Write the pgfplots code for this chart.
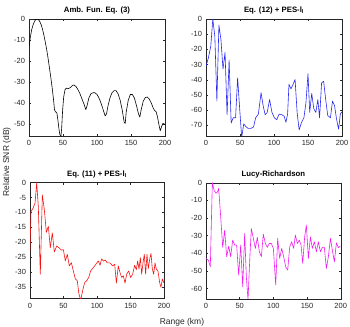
\documentclass[border=0pt]{standalone}
\usepackage{pgfplots}
\pgfplotsset{compat=1.18}
\usepackage{fontspec}
\setmainfont{Liberation Sans}

\definecolor{axgray}{RGB}{38,38,38}
\definecolor{lineblue}{RGB}{40,40,240}
\definecolor{linered}{RGB}{245,20,20}
\definecolor{linemag}{RGB}{240,30,240}

\pgfplotsset{
  every axis title/.style={at={(0.5,1)}, anchor=south, yshift=1.5bp,
    font=\bfseries\fontsize{7.8}{9}\selectfont, text=black},
  snrpanel/.style={
    scale only axis,
    width=136bp, height=117bp,
    anchor=south west,
    xmin=0, xmax=200,
    xtick={0,50,...,200},
    tick align=inside,
    major tick length=2.2bp,
    axis line style={axgray, line width=0.4bp},
    every tick/.style={axgray, line width=0.4bp},
    tick label style={font=\fontsize{7.5}{8}\selectfont, text=axgray},
    /pgf/number format/assume math mode=true,
    xticklabel style={yshift=-1bp},
    yticklabel style={xshift=-0.5bp},
    every axis plot/.append style={line width=0.6bp, line join=round},
  }
}

\begin{document}
\begin{tikzpicture}
\useasboundingbox (0bp,0bp) rectangle (350bp,327bp);

% ---- Ambiguity function
\begin{axis}[snrpanel, at={(29bp,191bp)},
  ymin=-55.5, ymax=0, ytick={-50,-40,...,0},
  title={Amb. Fun. Eq. (3)}]
\addplot[black] coordinates {
(0,-13) (2,-8.5) (4,-5) (6,-2.8) (8,-1.2) (10,-0.2) (12,0) (14,-0.3)
(16,-1.3) (18,-2.8) (20,-5) (22,-7.8) (24,-11) (26,-14.5) (28,-18.5)
(30,-23) (32,-27.5) (34,-32.5) (36,-38) (37.5,-43) (39,-44) (41,-44.5)
(42.5,-48) (44,-52) (45.5,-55) (47,-55.5) (48,-52) (49.5,-43) (51,-37)
(53,-33.5) (55,-32.8) (58,-33) (61,-32.5) (64,-31.5) (66,-31.3) (69,-32)
(72,-33.5) (75,-35.5) (78,-38) (81,-40.5) (83.5,-43) (85.5,-41) (88,-37.5)
(91,-35.5) (94,-35) (97,-35) (100,-35.8) (103,-37.5) (106,-40) (109,-43)
(112,-46) (114,-45) (116,-41.5) (119,-37.5) (122,-35) (125,-34) (128,-34)
(131,-35.5) (134,-38.5) (137,-43) (140,-49) (141.5,-49.5) (143,-44)
(146,-38.5) (149,-35.8) (152,-35.8) (155,-37.5) (158,-41) (161,-45)
(163,-46.5) (165,-43) (168,-39) (171,-37.3) (174,-37) (177,-38) (180,-40)
(183,-42.5) (185,-43.5) (187,-44) (189,-46.5) (191,-50) (193,-53)
(195,-51) (197,-49.5) (200,-50)
};
\end{axis}

% ---- Eq. (12) + PES
\begin{axis}[snrpanel, at={(206bp,191bp)},
  ymin=-77, ymax=0, ytick={-70,-60,...,0},
  title={Eq. (12) + PES-l\textsubscript{l}}]
\addplot[lineblue] coordinates {
(0,-31) (3.5,-25.6) (7,-18) (10,0) (13,-11.5) (16,-54) (19,-4) (22,-13.7)
(25,-33) (28,-22) (31,-63) (34,-27) (37,-68.5) (40,-65) (43.5,-65)
(46.5,-38.7) (49.5,-59) (52.5,-78) (55.5,-69) (59,-71) (62,-72) (66,-72)
(70,-71) (73,-65) (77,-62.6) (81,-48.5) (84,-57) (87,-63) (90,-61.5)
(93.5,-53) (97,-61.5) (100.5,-65) (104,-66.3) (107.5,-62.6) (111.5,-63)
(115,-64) (117.5,-68) (120,-62.6) (122,-43) (125,-46) (128,-43)
(131,-39.8) (134,-61.5) (137,-73) (140.5,-68) (144,-65) (147,-55)
(150,-36) (152.5,-61.5) (155.5,-49) (158.5,-59) (161.5,-61.5) (164.5,-53)
(167,-65) (170,-42) (173,-41) (176,-53) (179,-63.5) (183,-65) (186,-54)
(189,-57) (192,-66) (195,-72.5) (197.5,-62.6) (200,-61)
};
\end{axis}

% ---- Eq. (11) + PES
\begin{axis}[snrpanel, at={(30bp,28.7bp)}, width=134bp, height=115.6bp,
  ymin=-38.9, ymax=0, ytick={-35,-30,...,0},
  title={Eq. (11) + PES-l\textsubscript{l}}]
\addplot[linered] coordinates {
(0,-23) (1.5,-9.7) (4.5,-8.6) (7.5,-6.9) (10,0) (12.4,-8) (15.4,-30.8)
(18.4,-4.1) (21.4,-9.1) (24.4,-16.7) (27.4,-14.7) (30.3,-21.9)
(33.3,-16.9) (36.3,-23.3) (39.8,-21.3) (43.3,-21.9) (46.8,-22.7)
(49.8,-22.5) (52.7,-26.3) (55.7,-24.1) (58.7,-28) (61.7,-26.9)
(64.7,-29.7) (67.7,-32.4) (70.6,-33) (73,-37.4) (75.6,-39.5) (78.6,-36.3)
(81.6,-33.6) (84.6,-33) (87.6,-31.9) (90.5,-29.7) (94.5,-28.6)
(98.5,-27.4) (102,-26.3) (104.5,-27.8) (107,-25.6) (109.5,-26.4)
(112.4,-26) (115.4,-27) (119.4,-27) (123.4,-28) (126.4,-27.4)
(128.9,-33.8) (131.8,-28) (134.3,-30.2) (136.8,-31.9) (139.3,-31.3)
(141.8,-33.8) (144.3,-30.8) (147.3,-29.7) (150.2,-31.9) (153.2,-30.8)
(156.2,-27.8) (158.7,-29.3) (160.7,-26.3) (162.7,-29.1) (164.7,-25.2)
(166.7,-30.8) (168.7,-26.9) (170.6,-24.1) (172.6,-30.8) (174.6,-24.1)
(176.6,-28.9) (178.6,-25.8) (180.6,-23.8) (182.6,-29.1) (184.6,-30.8)
(186.6,-27) (188.6,-29.1) (191,-29.7) (193.5,-33.6) (195.5,-35.2)
(197.5,-32.4) (200,-33.8)
};
\end{axis}

% ---- Lucy-Richardson
\begin{axis}[snrpanel, at={(206bp,28bp)}, width=134.7bp, height=116.3bp,
  ymin=-66, ymax=0, ytick={-60,-50,...,0},
  title={Lucy-Richardson}]
\addplot[linemag] coordinates {
(0,-43) (3.5,-44) (6.4,-47.7) (9.4,0) (11.9,-4.2) (14.9,-6) (17.3,-5.1)
(18.8,-3.2) (21.8,-19.3) (24.8,-36.7) (27.7,-26.9) (30.7,-42) (33.7,-36)
(36.6,-42) (39.6,-32.6) (42.6,-35.4) (45.5,-35.4) (48.5,-52.5)
(51.5,-35.4) (54.5,-59) (57.4,-28.8) (59.9,-53.4) (62.4,-66.5) (64.9,-44)
(67.3,-26) (70.3,-31.6) (73.3,-37.3) (76.2,-31) (79.2,-39.2) (82.2,-42)
(85.1,-29.2) (88.1,-34.5) (91,-36.7) (94,-34.5) (97,-34.5) (100,-37.3)
(103.5,-58) (106.4,-31.6) (109.4,-43) (112.4,-37.3) (115.3,-42)
(118.3,-47.7) (121.3,-49.6) (124.3,-36.4) (127.2,-33.5) (130.2,-37.3)
(132.7,-29.7) (135.6,-34.5) (138.6,-32.6) (141.1,-35.4) (143.6,-45.8)
(146.5,-30.7) (149,-24) (152,-43) (155,-30.7) (157.9,-37.3) (160.9,-33.5)
(163.9,-39.2) (166.8,-33.5) (169.8,-39.2) (172.8,-36.7) (175.7,-36.7)
(178.7,-48.7) (181.7,-42) (184.7,-31.6) (187.6,-38.3) (190.6,-44.9)
(193.6,-34.1) (196.5,-36.9) (199.5,-35.9)
};
\end{axis}

% shared axis labels
\node[rotate=90, font=\fontsize{8.5}{10}\selectfont, text=axgray] at (7bp,165bp) {Relative SNR (dB)};
\node[font=\fontsize{8.5}{10}\selectfont, text=axgray] at (182bp,5bp) {Range (km)};
\end{tikzpicture}
\end{document}
